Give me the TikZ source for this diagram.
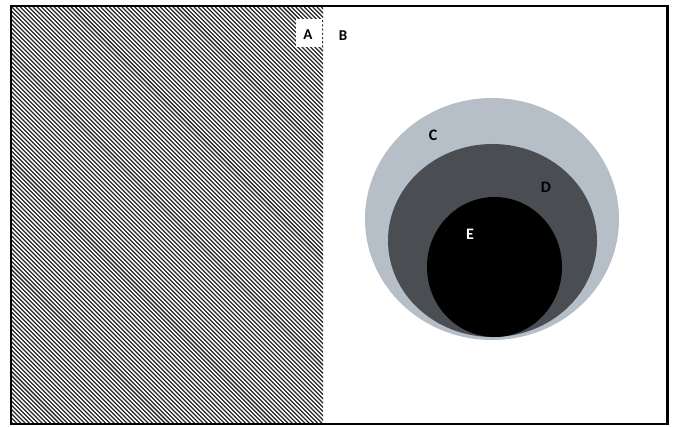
\documentclass[tikz,border=0pt]{standalone}
\usepackage{fontspec}
\setmainfont{Carlito}
\definecolor{cgray}{RGB}{182,191,199}
\definecolor{dgray}{RGB}{74,77,82}
\tikzset{lbl/.style={font=\fontsize{15}{15}\selectfont\bfseries, inner sep=0pt}}
\begin{document}
\begin{tikzpicture}[x=1pt,y=-1pt]
\useasboundingbox (0,0) rectangle (674,427);
\fill[white] (0,0) rectangle (674,427);
% hatched panel
\begin{scope}
\clip (12,7) rectangle (323,423);
\fill[white] (12,7) rectangle (323,423);
\foreach \i in {0,...,175}{
  \draw[black!85, line width=1.25pt] ({12-420+\i*4.24},7) -- ++(420,420);
}
\end{scope}
% frame
\draw[black, line width=2.5pt] (11,6) rectangle (667.5,424);
% A label box
\node[fill=white, minimum width=26pt, minimum height=28pt, inner sep=0pt] (boxA) at (308.5,33) {};
\node[lbl] (A) at (308,35) {A};
\node[lbl] (B) at (343,36) {B};
% circles
\fill[cgray] (492,219) ellipse [x radius=127, y radius=121];
\fill[dgray] (492.5,240.5) ellipse [x radius=104.5, y radius=96.5];
\fill[black] (494.5,267) ellipse [x radius=67.5, y radius=70];
\node[lbl, font=\fontsize{16}{16}\selectfont\bfseries] (C) at (433,135) {C};
\node[lbl, font=\fontsize{16}{16}\selectfont\bfseries] (D) at (546,187) {D};
\node[lbl, font=\fontsize{16}{16}\selectfont\bfseries, text=white] (E) at (470,234) {E};
\end{tikzpicture}
\end{document}
